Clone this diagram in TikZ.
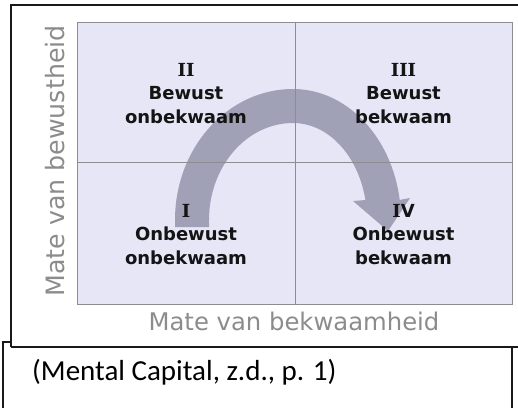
\documentclass[tikz,border=0pt]{standalone}
\usepackage{fontspec}
\setmainfont{DejaVu Sans}
\newfontfamily\capfont{Carlito}
\newfontfamily\numfont{DejaVu Serif}
\definecolor{quadfill}{RGB}{230,230,246}
\definecolor{gridgray}{RGB}{140,140,145}
\definecolor{axisgray}{RGB}{140,140,140}
\definecolor{arrowfill}{RGB}{160,160,182}
\definecolor{framecol}{RGB}{25,25,25}
\newcommand{\RI}{{\numfont\bfseries I}}
\begin{document}
\begin{tikzpicture}[x=1pt,y=-1pt,
  frameline/.style={draw=framecol, line width=2pt},
  gridline/.style={draw=gridgray, line width=1pt},
  quadlabel/.style={font=\fontsize{18}{22}\selectfont\bfseries, text=black!92, anchor=base, inner sep=0pt},
  axislabel/.style={text=axisgray, inner sep=0pt, anchor=base},
  caplabel/.style={font=\capfont\fontsize{29}{34}\selectfont, text=black, anchor=base west, inner sep=0pt}]
\useasboundingbox (0,0) rectangle (518,407);
\fill[white] (0,0) rectangle (518,407);
% quadrant field
\fill[quadfill] (77.7,22.3) rectangle (512.3,304);
% curved arrow
\fill[arrowfill] (175,227) -- (175,220)
  arc[start angle=180, end angle=270, x radius=118, y radius=131]
  arc[start angle=270, end angle=351.2, x radius=108, y radius=131]
  -- (410,198) -- (388,231) -- (353,201) -- (365.4,200)
  arc[start angle=348.1, end angle=270, x radius=74, y radius=97]
  arc[start angle=270, end angle=180, x radius=84, y radius=97]
  -- (209,227) -- cycle;
% grid
\draw[gridline] (77.7,22.3) rectangle (512.3,304);
\draw[gridline] (295,22.3) -- (295,304);
\draw[gridline] (77.7,162.7) -- (512.3,162.7);
% quadrant labels
\node[quadlabel] (q2a) at (186,76) {\RI\RI};
\node[quadlabel] (q2b) at (186,99.5) {Bewust};
\node[quadlabel] (q2c) at (186,123) {onbekwaam};
\node[quadlabel] (q3a) at (403.5,76) {\RI\RI\RI};
\node[quadlabel] (q3b) at (403.5,99.5) {Bewust};
\node[quadlabel] (q3c) at (403.5,123) {bekwaam};
\node[quadlabel] (q1a) at (186,217.3) {\RI};
\node[quadlabel] (q1b) at (186,240.7) {Onbewust};
\node[quadlabel] (q1c) at (186,264) {onbekwaam};
\node[quadlabel] (q4a) at (403.5,217.3) {\RI V};
\node[quadlabel] (q4b) at (403.5,240.7) {Onbewust};
\node[quadlabel] (q4c) at (403.5,264) {bekwaam};
% axis labels
\node[axislabel, font=\fontsize{24.3}{28}\selectfont] (xlab) at (294,330) {Mate van bekwaamheid};
\node[axislabel, font=\fontsize{25.3}{29}\selectfont, rotate=90] (ylab) at (64,161) {Mate van bewustheid};
% frames
\draw[frameline] (11,347) -- (11,5) -- (519,5);
\draw[frameline] (11,347) -- (519,347);
\draw[frameline] (3,408) -- (3,342) -- (12,342);
\draw[frameline] (512,347) -- (512,408);
% caption
\node[caplabel] (cap) at (32,380) {(Mental Capital, z.d., p. 1)};
\end{tikzpicture}
\end{document}
